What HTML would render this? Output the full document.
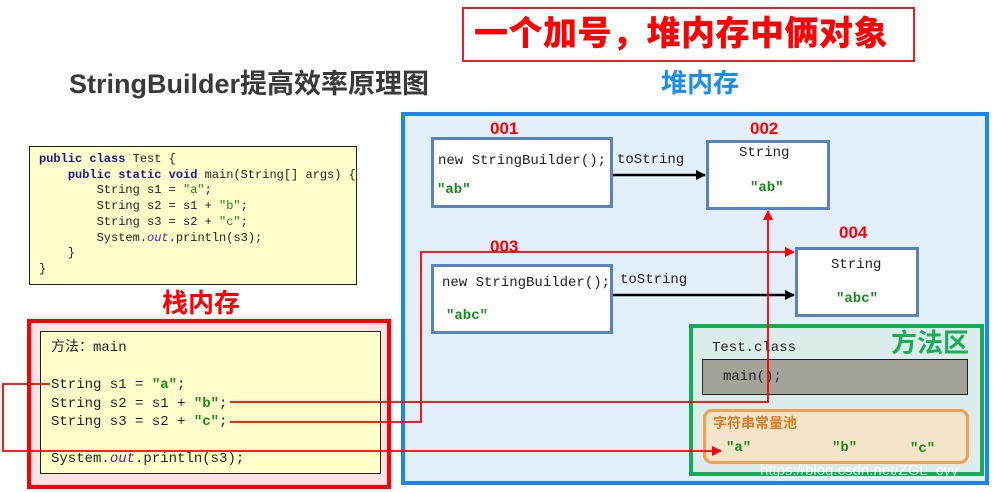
<!DOCTYPE html>
<html><head><meta charset="utf-8">
<style>
*{margin:0;padding:0;box-sizing:border-box}
body{width:997px;height:492px;background:#fff;position:relative;overflow:hidden;font-family:"Liberation Sans","Noto Sans CJK SC",sans-serif}
.a{position:absolute;white-space:pre}
.m{font-family:"Liberation Mono","Noto Sans CJK SC",monospace}
.g{color:#1a8a1a;font-weight:bold}
.k{color:#1a1a8a;font-weight:bold}
.o{color:#7a1a8a;font-style:italic}
.box{position:absolute;background:#fff;border:3px solid #5b82c0}
.red{color:#f00;font-weight:bold;font-size:17px}
</style></head><body>
<div class="a" style="left:462px;top:7px;width:453px;height:55px;border:2px solid #e8202a"></div>
<div class="a" style="left:474px;top:10px;font-size:34px;font-weight:900;color:#f00;line-height:48px;letter-spacing:0.5px">一个加号，堆内存中俩对象</div>
<div class="a" style="left:69px;top:67px;font-size:27px;font-weight:bold;color:#3a3a3a;line-height:34px">StringBuilder提高效率原理图</div>
<div class="a" style="left:661px;top:66px;font-size:26px;font-weight:bold;color:#1a8ef0;line-height:34px">堆内存</div>

<!-- code box -->
<div class="a m" style="left:29px;top:146px;width:328px;height:139px;background:#ffffcc;border:1.5px solid #222;font-size:12px;line-height:15.7px;padding:5px 0 0 9px;color:#222"><span class="k">public class</span> Test {
    <span class="k">public static void</span> main(String[] args) {
        String s1 = <span class="g" style="font-weight:normal">"a"</span>;
        String s2 = s1 + <span class="g" style="font-weight:normal">"b"</span>;
        String s3 = s2 + <span class="g" style="font-weight:normal">"c"</span>;
        System.<span class="o">out</span>.println(s3);
    }
}</div>

<div class="a" style="left:162px;top:286px;font-size:26px;font-weight:bold;color:#f00;line-height:34px">栈内存</div>
<div class="a" style="left:27px;top:319px;width:364px;height:170px;background:#fde4e4;border:4px solid #f00"></div>
<div class="a m" style="left:40px;top:331px;width:341px;height:143px;background:#ffffcc;border:1.5px solid #222;font-size:14px;color:#222;padding:7px 0 0 10px;line-height:18.5px">方法：main

String s1 = <span class="g">"a"</span>;
String s2 = s1 + <span class="g">"b"</span>;
String s3 = s2 + <span class="g">"c"</span>;

System.<span class="o">out</span>.println(s3);</div>

<!-- heap -->
<div class="a" style="left:401px;top:112px;width:588px;height:373px;background:#e3effb;border:4px solid #1a86f5"></div>
<div class="box" style="left:431px;top:137px;width:182px;height:71px"></div>
<div class="a m" style="left:438px;top:153px;font-size:14px;color:#222">new StringBuilder();</div>
<div class="a m g" style="left:437px;top:182px;font-size:14px">"ab"</div>
<div class="a red" style="left:490px;top:119px">001</div>

<div class="box" style="left:706px;top:140px;width:124px;height:70px"></div>
<div class="a m" style="left:739px;top:145px;font-size:14px;color:#222">String</div>
<div class="a m g" style="left:750px;top:180px;font-size:14px">"ab"</div>
<div class="a red" style="left:750px;top:119px">002</div>

<div class="a red" style="left:490px;top:237px">003</div>
<div class="box" style="left:431px;top:264px;width:182px;height:70px"></div>
<div class="a m" style="left:442px;top:275px;font-size:14px;color:#222">new StringBuilder();</div>
<div class="a m g" style="left:446px;top:308px;font-size:14px">"abc"</div>

<div class="box" style="left:795px;top:247px;width:124px;height:70px"></div>
<div class="a m" style="left:831px;top:257px;font-size:14px;color:#222">String</div>
<div class="a m g" style="left:836px;top:291px;font-size:14px">"abc"</div>
<div class="a red" style="left:839px;top:223px">004</div>

<div class="a m" style="left:617px;top:152px;font-size:14px;color:#222">toString</div>
<div class="a m" style="left:620px;top:272px;font-size:14px;color:#222">toString</div>

<!-- method area -->
<div class="a" style="left:689px;top:324px;width:295px;height:152px;background:#dceceb;border:4px solid #12ad55"></div>
<div class="a" style="left:891px;top:326px;font-size:26px;font-weight:bold;color:#1aad58;line-height:34px">方法区</div>
<div class="a m" style="left:712px;top:340px;font-size:14px;color:#222">Test.class</div>
<div class="a" style="left:702px;top:359px;width:266px;height:36px;background:#a3a39a;border:1.5px solid #222"></div>
<div class="a m" style="left:723px;top:369px;font-size:14px;color:#222">main();</div>
<div class="a" style="left:703px;top:409px;width:266px;height:55px;background:#f5e4cc;border:3px solid #f0a050;border-radius:9px"></div>
<div class="a" style="left:713px;top:413px;font-size:14px;font-weight:bold;color:#e07a20">字符串常量池</div>
<div class="a m g" style="left:726px;top:440px;font-size:14px">"a"</div>
<div class="a m g" style="left:832px;top:440px;font-size:14px">"b"</div>
<div class="a m g" style="left:910px;top:441px;font-size:14px">"c"</div>
<div class="a" style="left:760px;top:462px;font-size:15px;color:rgba(255,255,255,0.75)">https://blog.csdn.net/ZGL_cyy</div>

<svg class="a" style="left:0;top:0" width="997" height="492">
<defs>
<marker id="ab" markerWidth="10" markerHeight="10" refX="9" refY="5" orient="auto" markerUnits="userSpaceOnUse"><path d="M0,0 L10,5 L0,10z" fill="#000"/></marker>
<marker id="ar" markerWidth="10" markerHeight="10" refX="9" refY="5" orient="auto" markerUnits="userSpaceOnUse"><path d="M0,0 L10,5 L0,10z" fill="#f00"/></marker>
</defs>
<line x1="613" y1="175" x2="705" y2="175" stroke="#000" stroke-width="2.5" marker-end="url(#ab)"/>
<line x1="613" y1="295" x2="794" y2="295" stroke="#000" stroke-width="2.5" marker-end="url(#ab)"/>
<g fill="none" stroke="#f00" stroke-width="1.8">
<polyline points="50,384 3,384 3,451 721,451" marker-end="url(#ar)"/>
<polyline points="230,402 768,402 768,211" marker-end="url(#ar)"/>
<polyline points="230,422 421,422 421,252 794,252" marker-end="url(#ar)"/>
</g>
</svg>
</body></html>
